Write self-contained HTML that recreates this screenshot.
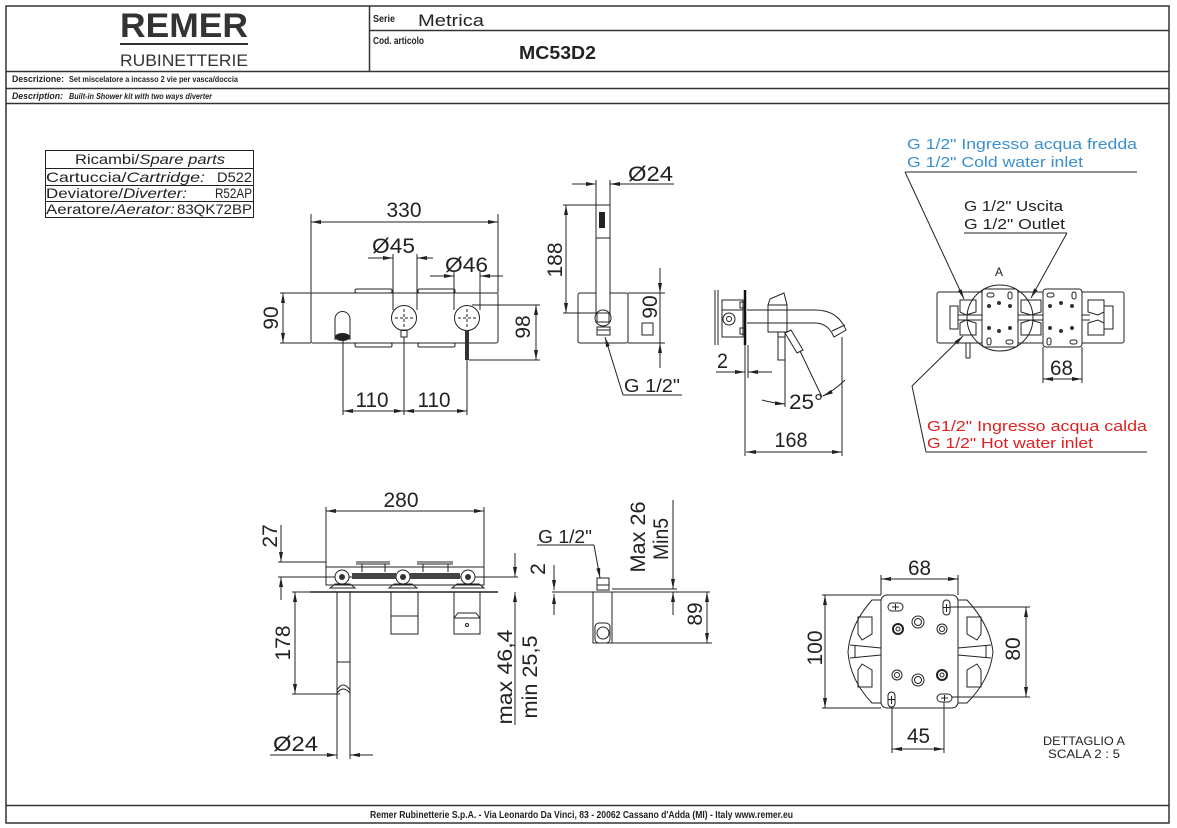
<!DOCTYPE html>
<html><head><meta charset="utf-8"><style>
html,body{margin:0;padding:0;background:#fff;}
svg{display:block;}
text{font-family:"Liberation Sans",sans-serif;fill:#222;}
.t{font-family:"Liberation Sans Narrow","Liberation Sans",sans-serif;font-weight:bold;}
.n{font-size:21px;}
g.s{stroke:#222;stroke-width:1;fill:none;}
.d{marker-start:url(#a);marker-end:url(#a);}
.e{marker-end:url(#a);}
</style></head><body>
<svg width="1177" height="828" viewBox="0 0 1177 828" xmlns="http://www.w3.org/2000/svg">
<defs>
<marker id="a" viewBox="0 0 10 4" refX="10" refY="2" markerWidth="10" markerHeight="4" markerUnits="userSpaceOnUse" orient="auto-start-reverse"><path d="M0,0L10,2L0,4z" fill="#222"/></marker>
</defs>
<rect width="1177" height="828" fill="#fff"/>

<!-- FRAME / HEADER -->
<g stroke="#333" stroke-width="1.5" fill="none">
<rect x="6" y="6" width="1163" height="817"/>
<line x1="369.5" y1="6" x2="369.5" y2="71"/>
<line x1="369" y1="30.5" x2="1169" y2="30.5"/>
<line x1="6" y1="71.5" x2="1169" y2="71.5"/>
<line x1="6" y1="88.5" x2="1169" y2="88.5"/>
<line x1="6" y1="103.5" x2="1169" y2="103.5"/>
<line x1="6" y1="805.5" x2="1169" y2="805.5"/>
</g>
<text x="184" y="37" font-size="34" font-weight="bold" text-anchor="middle" textLength="128" lengthAdjust="spacingAndGlyphs" style="fill:#333">REMER</text>
<rect x="120" y="43" width="128" height="2" fill="#333"/>
<text x="184" y="66" font-size="17" text-anchor="middle" textLength="128" lengthAdjust="spacingAndGlyphs" style="fill:#333">RUBINETTERIE</text>
<text class="t" x="373" y="22" font-size="10" textLength="22" lengthAdjust="spacingAndGlyphs">Serie</text>
<text x="418" y="26" font-size="17" textLength="66" lengthAdjust="spacingAndGlyphs">Metrica</text>
<text class="t" x="373" y="44" font-size="10" textLength="51" lengthAdjust="spacingAndGlyphs">Cod. articolo</text>
<text x="519" y="59" font-size="18" font-weight="bold" textLength="77" lengthAdjust="spacingAndGlyphs">MC53D2</text>
<text class="t" x="12" y="82" font-size="9" textLength="52" lengthAdjust="spacingAndGlyphs">Descrizione:</text>
<text class="t" x="69" y="82" font-size="8" textLength="169" lengthAdjust="spacingAndGlyphs">Set miscelatore a incasso 2 vie per vasca/doccia</text>
<text class="t" x="12" y="99" font-size="9" font-style="italic" textLength="51" lengthAdjust="spacingAndGlyphs">Description:</text>
<text class="t" x="69" y="99" font-size="8" font-style="italic" textLength="143" lengthAdjust="spacingAndGlyphs">Built-in Shower kit with two ways diverter</text>
<text class="t" x="370" y="818" font-size="10" textLength="423" lengthAdjust="spacingAndGlyphs">Remer Rubinetterie S.p.A. - Via Leonardo Da Vinci, 83 - 20062 Cassano d'Adda (MI) - Italy www.remer.eu</text>

<!-- SPARE PARTS TABLE -->
<g stroke="#222" stroke-width="1" fill="none">
<rect x="45.5" y="150.5" width="208" height="67"/>
<line x1="45" y1="168.5" x2="254" y2="168.5"/>
<line x1="45" y1="185.5" x2="254" y2="185.5"/>
<line x1="45" y1="201.5" x2="254" y2="201.5"/>
</g>
<text x="75" y="164" font-size="14" textLength="150" lengthAdjust="spacingAndGlyphs">Ricambi/<tspan font-style="italic">Spare parts</tspan></text>
<text x="46" y="182" font-size="14" textLength="159" lengthAdjust="spacingAndGlyphs">Cartuccia/<tspan font-style="italic">Cartridge:</tspan></text>
<text x="217" y="182" font-size="14" textLength="35" lengthAdjust="spacingAndGlyphs">D522</text>
<text x="46" y="198" font-size="14" textLength="141" lengthAdjust="spacingAndGlyphs">Deviatore/<tspan font-style="italic">Diverter:</tspan></text>
<text x="215" y="198" font-size="14" textLength="37" lengthAdjust="spacingAndGlyphs">R52AP</text>
<text x="46" y="214" font-size="14" textLength="129" lengthAdjust="spacingAndGlyphs">Aeratore/<tspan font-style="italic">Aerator:</tspan></text>
<text x="177" y="214" font-size="14" textLength="75" lengthAdjust="spacingAndGlyphs">83QK72BP</text>

<!-- FRONT VIEW (top-left) -->
<g class="s">
<line x1="311" y1="214" x2="311" y2="293"/>
<line x1="498" y1="214" x2="498" y2="293"/>
<line class="d" x1="311" y1="222" x2="498" y2="222"/>
<rect x="311" y="293" width="187" height="50" rx="2"/>
<rect x="355" y="289" width="37" height="4" rx="1.5"/>
<rect x="418" y="289" width="37" height="4" rx="1.5"/>
<rect x="355" y="343" width="37" height="4" rx="1.5"/>
<rect x="418" y="343" width="37" height="4" rx="1.5"/>
<!-- 90 -->
<line x1="280" y1="293" x2="311" y2="293"/>
<line x1="280" y1="343" x2="311" y2="343"/>
<line class="d" x1="283" y1="293" x2="283" y2="343"/>
<!-- Ø45 -->
<line class="e" x1="368" y1="258" x2="393" y2="258"/>
<line class="e" x1="433" y1="258" x2="417" y2="258"/>
<line x1="393" y1="254" x2="393" y2="310"/>
<line x1="417" y1="254" x2="417" y2="310"/>
<!-- Ø46 -->
<line class="e" x1="430" y1="276" x2="454" y2="276"/>
<line class="e" x1="503" y1="276" x2="480" y2="276"/>
<line x1="454" y1="272" x2="454" y2="310"/>
<line x1="480" y1="272" x2="480" y2="310"/>
<!-- spout -->
<path d="M335,340 L335,319 A7.5,7.5 0 0 1 350,319 L350,340"/>
<!-- knobs -->
<circle cx="404" cy="318" r="12.5" fill="#fff"/>
<circle cx="467" cy="318" r="12.5" fill="#fff"/>
<g stroke-dasharray="3,2"><line x1="395" y1="318" x2="413" y2="318"/><line x1="404" y1="309" x2="404" y2="327"/>
<line x1="458" y1="318" x2="476" y2="318"/><line x1="467" y1="309" x2="467" y2="327"/></g>
<rect x="401" y="330" width="6" height="7"/>
<!-- 98 -->
<line x1="472" y1="305" x2="540" y2="305"/>
<line x1="469" y1="360" x2="540" y2="360"/>
<line class="d" x1="536" y1="305" x2="536" y2="360"/>
<!-- 110 110 -->
<line x1="343" y1="340" x2="343" y2="415"/>
<line x1="404" y1="337" x2="404" y2="415"/>
<line x1="467" y1="360" x2="467" y2="415"/>
<line class="d" x1="343" y1="411" x2="404" y2="411"/>
<line class="d" x1="404" y1="411" x2="467" y2="411"/>
</g>
<ellipse cx="342.5" cy="337" rx="7.5" ry="4" fill="#222"/>
<rect x="465" y="330" width="4" height="30" fill="#333"/>
<text class="n" x="404" y="217" text-anchor="middle" textLength="35" lengthAdjust="spacingAndGlyphs">330</text>
<text class="n" x="372" y="253" textLength="43" lengthAdjust="spacingAndGlyphs">Ø45</text>
<text class="n" x="445" y="272" textLength="43" lengthAdjust="spacingAndGlyphs">Ø46</text>
<text class="n" transform="translate(278,318) rotate(-90)" text-anchor="middle">90</text>
<text class="n" transform="translate(530,327) rotate(-90)" text-anchor="middle">98</text>
<text class="n" x="372" y="407" text-anchor="middle" textLength="33" lengthAdjust="spacingAndGlyphs">110</text>
<text class="n" x="434" y="407" text-anchor="middle" textLength="33" lengthAdjust="spacingAndGlyphs">110</text>

<!-- SIDE VIEW (handshower) -->
<g class="s">
<line class="e" x1="572" y1="184" x2="596" y2="184"/>
<line class="e" x1="674" y1="184" x2="610" y2="184"/>
<line x1="596" y1="180" x2="596" y2="205"/>
<line x1="610" y1="180" x2="610" y2="205"/>
<rect x="578" y="293" width="50" height="50" rx="2"/>
<rect x="596" y="205" width="14" height="108" fill="#fff"/>
<line x1="596" y1="238" x2="610" y2="238"/>
<line x1="563" y1="205" x2="596" y2="205"/>
<line x1="563" y1="313" x2="598" y2="313"/>
<line class="d" x1="566" y1="205" x2="566" y2="313"/>
<line x1="628" y1="293" x2="665" y2="293"/>
<line x1="628" y1="343" x2="665" y2="343"/>
<line class="e" x1="660" y1="268" x2="660" y2="293"/>
<line class="e" x1="660" y1="368" x2="660" y2="343"/>
<line x1="660" y1="293" x2="660" y2="343"/>
<rect x="642" y="323" width="11" height="12"/>
<circle cx="603" cy="318" r="8" fill="#fff"/>
<rect x="597" y="313" width="12" height="9" fill="#fff"/>
<rect x="597" y="327" width="13" height="8"/>
<line x1="597" y1="330" x2="610" y2="330"/>
<line class="e" x1="623" y1="395" x2="605" y2="337"/>
<line x1="623" y1="395" x2="682" y2="395"/>
</g>
<rect x="599" y="212" width="6" height="16" fill="#222"/>
<text class="n" x="628" y="181" textLength="45" lengthAdjust="spacingAndGlyphs">Ø24</text>
<text class="n" transform="translate(562,260) rotate(-90)" text-anchor="middle">188</text>
<text class="n" transform="translate(657,307) rotate(-90)" text-anchor="middle">90</text>
<text x="624" y="392" font-size="18" textLength="56" lengthAdjust="spacingAndGlyphs">G 1/2"</text>

<!-- PROFILE VIEW -->
<g class="s">
<line x1="715" y1="290" x2="715" y2="345"/>
<line x1="718" y1="290" x2="718" y2="345"/>
<rect x="722" y="300" width="21" height="37"/>
<rect x="740" y="302" width="5" height="6"/>
<rect x="740" y="328" width="5" height="6"/>
<circle cx="729" cy="319" r="6"/>
<circle cx="729" cy="319" r="2.5"/>
<line x1="722" y1="310" x2="743" y2="310"/>
<path d="M747,310 L815,310 Q838,310 846,330 L834,337 Q828,323 815,323 L747,323"/>
<line x1="832" y1="331" x2="845" y2="325"/>
<path d="M768,305 L768,332 L787,332 L787,305 Z"/>
<path d="M768,305 L770,299 L784,293 L787,305"/>
<rect x="778" y="332" width="7" height="28"/>
<line x1="778" y1="337" x2="785" y2="337"/>
<path d="M785,333 L791,330 L803,350 L797,353 Z"/>
<line x1="745" y1="345" x2="745" y2="456"/>
<line x1="748" y1="345" x2="748" y2="378"/>
<line x1="842" y1="337" x2="842" y2="456"/>
<line class="e" x1="716" y1="372" x2="745" y2="372"/>
<line class="e" x1="772" y1="372" x2="748" y2="372"/>
<line class="d" x1="746" y1="452" x2="842" y2="452"/>
<line x1="800" y1="351" x2="822" y2="397"/>
<line x1="785" y1="360" x2="785" y2="407"/>
<path class="e" d="M762,400 Q772,403 785,404"/>
<path class="e" d="M845,380 Q835,390 823,396"/>
</g>
<line x1="745" y1="290" x2="745" y2="345" stroke="#111" stroke-width="2.5"/>
<text class="n" x="717" y="368" textLength="11" lengthAdjust="spacingAndGlyphs">2</text>
<text class="n" x="789" y="409" textLength="34" lengthAdjust="spacingAndGlyphs">25°</text>
<text class="n" x="791" y="447" text-anchor="middle" textLength="33" lengthAdjust="spacingAndGlyphs">168</text>

<!-- TOP-RIGHT BODY VIEW -->
<text x="907" y="149" font-size="15" style="fill:#3a8fd0" textLength="230" lengthAdjust="spacingAndGlyphs">G 1/2" Ingresso acqua fredda</text>
<text x="907" y="167" font-size="15" style="fill:#3a8fd0" textLength="176" lengthAdjust="spacingAndGlyphs">G 1/2" Cold water inlet</text>
<text x="964" y="211" font-size="15" textLength="99" lengthAdjust="spacingAndGlyphs">G 1/2" Uscita</text>
<text x="964" y="229" font-size="15" textLength="101" lengthAdjust="spacingAndGlyphs">G 1/2" Outlet</text>
<text x="995" y="276" font-size="12">A</text>
<text x="927" y="431" font-size="15" style="fill:#e02020" textLength="220" lengthAdjust="spacingAndGlyphs">G1/2" Ingresso acqua calda</text>
<text x="927" y="448" font-size="15" style="fill:#e02020" textLength="166" lengthAdjust="spacingAndGlyphs">G 1/2" Hot water inlet</text>
<g class="s">
<line x1="905" y1="172" x2="1137" y2="172"/>
<line class="e" x1="905" y1="172" x2="964" y2="299"/>
<line x1="964" y1="233" x2="1067" y2="233"/>
<line class="e" x1="1067" y1="233" x2="1031" y2="298"/>
<rect x="937" y="292" width="187" height="51" rx="2"/>
<line x1="966" y1="343" x2="966" y2="358"/><line x1="970" y1="343" x2="970" y2="358"/><line x1="966" y1="358" x2="970" y2="358"/>
<!-- valves -->
<path d="M950,306 L958,306 L958,329 L950,329 Z"/>
<path d="M960,300 L976,300 L976,312 L966,315 L960,312 Z M960,323 L966,320 L976,323 L976,335 L960,335 Z"/>
<line x1="958" y1="315" x2="1090" y2="315"/><line x1="958" y1="320" x2="1090" y2="320"/>
<path d="M1021,300 L1041,300 L1041,312 L1031,315 L1021,312 Z M1021,323 L1031,320 L1041,323 L1041,335 L1021,335 Z"/>
<path d="M1088,300 L1104,300 L1104,312 L1098,315 L1088,312 Z M1088,323 L1098,320 L1104,323 L1104,335 L1088,335 Z"/>
<path d="M1104,306 L1113,306 L1113,329 L1104,329 Z"/>
<rect x="982" y="289" width="36" height="58" rx="3" fill="#fff"/>
<rect x="1043" y="289" width="39" height="58" rx="3" fill="#fff"/>
<circle cx="1000" cy="318" r="33"/>
<rect x="987" y="293" width="7" height="4" rx="2"/><rect x="1008" y="292" width="4" height="7" rx="2"/>
<rect x="987" y="338" width="4" height="7" rx="2"/><rect x="1006" y="340" width="7" height="4" rx="2"/>
<rect x="1047" y="293" width="7" height="4" rx="2"/><rect x="1072" y="292" width="4" height="7" rx="2"/>
<rect x="1047" y="338" width="4" height="7" rx="2"/><rect x="1070" y="340" width="7" height="4" rx="2"/>
<line x1="1043" y1="347" x2="1043" y2="383"/>
<line x1="1082" y1="347" x2="1082" y2="383"/>
<line class="d" x1="1043" y1="379" x2="1082" y2="379"/>
<line x1="926" y1="452" x2="1147" y2="452"/>
<line x1="926" y1="452" x2="912" y2="386"/>
<line class="e" x1="912" y1="386" x2="963" y2="336"/>
</g>
<g fill="#333">
<circle cx="989" cy="306" r="2"/><circle cx="999" cy="303" r="2"/><circle cx="1010" cy="306" r="2"/>
<circle cx="989" cy="328" r="2"/><circle cx="999" cy="331" r="2"/><circle cx="1010" cy="328" r="2"/>
<circle cx="1050" cy="306" r="2"/><circle cx="1061" cy="303" r="2"/><circle cx="1072" cy="306" r="2"/>
<circle cx="1050" cy="328" r="2"/><circle cx="1061" cy="331" r="2"/><circle cx="1072" cy="328" r="2"/>
</g>
<text class="n" x="1050" y="375" textLength="23" lengthAdjust="spacingAndGlyphs">68</text>

<!-- BOTTOM-LEFT TOP VIEW -->
<g class="s">
<line x1="326" y1="507" x2="326" y2="567"/>
<line x1="484" y1="507" x2="484" y2="567"/>
<line class="d" x1="326" y1="511" x2="484" y2="511"/>
<line x1="278" y1="562" x2="326" y2="562"/>
<line x1="278" y1="577" x2="518" y2="577"/>
<line class="e" x1="281" y1="525" x2="281" y2="562"/>
<line class="e" x1="281" y1="600" x2="281" y2="577"/>
<rect x="326" y="567" width="158" height="18"/>
<line x1="356" y1="562" x2="390" y2="562"/><line x1="417" y1="562" x2="453" y2="562"/>
<line x1="356" y1="564" x2="390" y2="564"/><line x1="417" y1="564" x2="453" y2="564"/>
<line x1="362" y1="564" x2="362" y2="572"/><line x1="385" y1="564" x2="385" y2="572"/>
<line x1="423" y1="564" x2="423" y2="572"/><line x1="448" y1="564" x2="448" y2="572"/>
<circle cx="342" cy="577" r="7" fill="#fff"/><circle cx="403" cy="577" r="7" fill="#fff"/><circle cx="468" cy="577" r="7" fill="#fff"/>
<path d="M330,588 L335,584 L350,584 L355,588 Z M389,588 L394,584 L412,584 L417,588 Z M452,588 L457,584 L479,584 L484,588 Z"/>
<line x1="310" y1="592" x2="498" y2="592" stroke-width="1.5"/>
<line x1="337" y1="592" x2="337" y2="759"/>
<line x1="350" y1="592" x2="350" y2="759"/>
<line x1="337" y1="662" x2="350" y2="662"/>
<path d="M337,690 Q343,680 350,690"/>
<path d="M337,693 Q343,685 350,693"/>
<rect x="391" y="592" width="27" height="42"/>
<line x1="391" y1="616" x2="418" y2="616"/>
<rect x="454" y="592" width="26" height="42"/>
<path d="M454,618 L458,613 L476,613 L480,618"/>
<line x1="454" y1="618" x2="480" y2="618"/>
<circle cx="467" cy="625" r="1.5"/>
<line x1="292" y1="592" x2="337" y2="592"/>
<line x1="292" y1="694" x2="340" y2="694"/>
<line class="d" x1="295" y1="592" x2="295" y2="694"/>
<line class="e" x1="270" y1="755" x2="337" y2="755"/>
<line class="e" x1="373" y1="755" x2="350" y2="755"/>
<line class="e" x1="515" y1="553" x2="515" y2="577"/>
<line class="e" x1="515" y1="725" x2="515" y2="592"/>
</g>
<rect x="352" y="573" width="44" height="6" fill="#444"/>
<rect x="410" y="573" width="50" height="6" fill="#444"/>
<g fill="#333"><circle cx="342" cy="577" r="3"/><circle cx="403" cy="577" r="3"/><circle cx="468" cy="577" r="3"/></g>
<text class="n" x="401" y="507" text-anchor="middle" textLength="35" lengthAdjust="spacingAndGlyphs">280</text>
<text class="n" transform="translate(277,536) rotate(-90)" text-anchor="middle">27</text>
<text class="n" transform="translate(290,643) rotate(-90)" text-anchor="middle">178</text>
<text class="n" x="273" y="751" textLength="45" lengthAdjust="spacingAndGlyphs">Ø24</text>
<text class="n" transform="translate(512,677) rotate(-90)" text-anchor="middle" textLength="95" lengthAdjust="spacingAndGlyphs">max 46,4</text>
<text class="n" transform="translate(537,677) rotate(-90)" text-anchor="middle" textLength="83" lengthAdjust="spacingAndGlyphs">min 25,5</text>

<!-- BOTTOM-MIDDLE SIDE VIEW -->
<g class="s">
<line x1="537" y1="545" x2="594" y2="545"/>
<line class="e" x1="594" y1="545" x2="600" y2="578"/>
<rect x="597" y="578" width="12" height="12"/>
<line x1="597" y1="585" x2="609" y2="585"/>
<line x1="552" y1="592" x2="710" y2="592"/>
<line x1="612" y1="589" x2="677" y2="589"/>
<line class="e" x1="554" y1="565" x2="554" y2="590"/>
<line class="e" x1="554" y1="615" x2="554" y2="594"/>
<rect x="593" y="592" width="19" height="51"/>
<rect x="595" y="623" width="15" height="20" rx="4"/>
<circle cx="603" cy="633" r="6"/>
<line x1="612" y1="643" x2="712" y2="643"/>
<line class="d" x1="707" y1="592" x2="707" y2="643"/>
<line class="e" x1="673" y1="500" x2="673" y2="589"/>
<line class="e" x1="673" y1="615" x2="673" y2="592"/>
</g>
<text x="538" y="543" font-size="18" textLength="54" lengthAdjust="spacingAndGlyphs">G 1/2"</text>
<text class="n" transform="translate(545,569) rotate(-90)" text-anchor="middle" font-size="18">2</text>
<text class="n" transform="translate(702,614) rotate(-90)" text-anchor="middle">89</text>
<text class="n" transform="translate(645,537) rotate(-90)" text-anchor="middle" textLength="71" lengthAdjust="spacingAndGlyphs">Max 26</text>
<text class="n" transform="translate(668,539) rotate(-90)" text-anchor="middle" textLength="42" lengthAdjust="spacingAndGlyphs">Min5</text>

<!-- BOTTOM-RIGHT DETAIL A -->
<g class="s">
<line x1="881" y1="575" x2="881" y2="595"/>
<line x1="958" y1="575" x2="958" y2="595"/>
<line class="d" x1="881" y1="579" x2="958" y2="579"/>
<path d="M881,600 L872,600 Q850,625 848,652 Q850,680 872,703 L881,703"/>
<path d="M958,600 L967,600 Q990,625 993,652 Q990,680 967,703 L958,703"/>
<path d="M858,617 L872,617 L872,634 L862,640 L858,634 Z M858,687 L872,687 L872,670 L862,664 L858,670 Z"/>
<path d="M981,617 L967,617 L967,634 L977,640 L981,634 Z M981,687 L967,687 L967,670 L977,664 L981,670 Z"/>
<path d="M850,645 L881,648 M850,658 L881,655 M855,645 L855,658"/>
<path d="M991,645 L958,648 M991,658 L958,655 M986,645 L986,658"/>
<rect x="881" y="595" width="77" height="113" rx="6" fill="#fff"/>
<line x1="822" y1="595" x2="881" y2="595"/>
<line x1="822" y1="708" x2="881" y2="708"/>
<line class="d" x1="825" y1="595" x2="825" y2="708"/>
<line x1="946" y1="607" x2="1030" y2="607"/>
<line x1="946" y1="697" x2="1030" y2="697"/>
<line class="d" x1="1026" y1="607" x2="1026" y2="697"/>
<line x1="892" y1="697" x2="892" y2="753"/>
<line x1="944" y1="697" x2="944" y2="753"/>
<line class="d" x1="892" y1="749" x2="944" y2="749"/>
<rect x="888" y="603" width="15" height="8" rx="4" fill="#fff"/>
<rect x="943" y="600" width="7" height="15" rx="3.5" fill="#fff"/>
<rect x="888" y="692" width="7" height="15" rx="3.5" fill="#fff"/>
<rect x="937" y="694" width="15" height="8" rx="4" fill="#fff"/>
<path d="M895.5,604 v6 M892,607 h7 M946.5,604 v8 M943.5,607.5 h6 M891.5,696 v8 M888.5,699.5 h6 M944.5,695 v6 M941,698 h7"/>
<circle cx="898" cy="629" r="5" stroke-width="2"/><circle cx="898" cy="629" r="2"/>
<circle cx="918" cy="622" r="6"/><circle cx="918" cy="622" r="3.5"/>
<circle cx="942" cy="629" r="5"/><circle cx="942" cy="629" r="2.5"/>
<circle cx="897" cy="675" r="5"/><circle cx="897" cy="675" r="2.5"/>
<circle cx="918" cy="680" r="6"/><circle cx="918" cy="680" r="3.5"/>
<circle cx="942" cy="675" r="5" stroke-width="2"/><circle cx="942" cy="675" r="2"/>
</g>
<text class="n" x="908" y="575" textLength="23" lengthAdjust="spacingAndGlyphs">68</text>
<text class="n" transform="translate(822,648) rotate(-90)" text-anchor="middle">100</text>
<text class="n" transform="translate(1020,649) rotate(-90)" text-anchor="middle">80</text>
<text class="n" x="907" y="743" textLength="23" lengthAdjust="spacingAndGlyphs">45</text>
<text x="1043" y="745" font-size="12" textLength="82" lengthAdjust="spacingAndGlyphs">DETTAGLIO A</text>
<text x="1048" y="758" font-size="12" textLength="72" lengthAdjust="spacingAndGlyphs">SCALA 2 : 5</text>
</svg>
</body></html>
